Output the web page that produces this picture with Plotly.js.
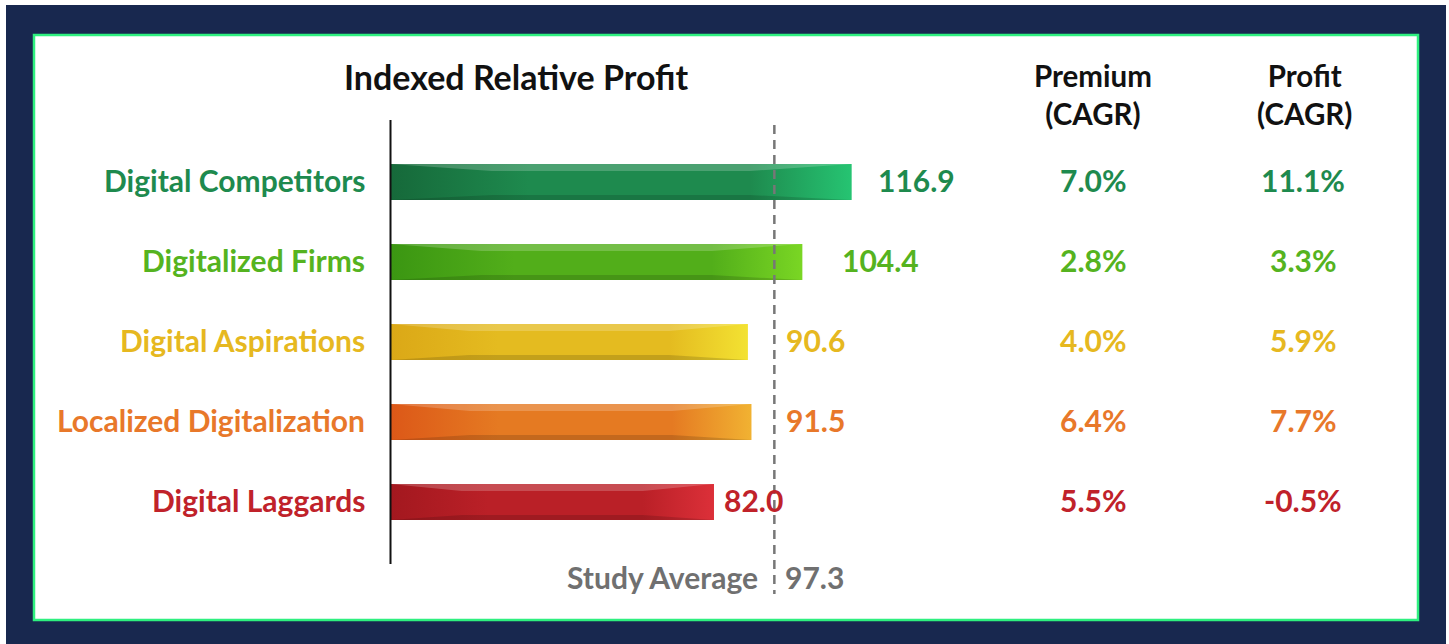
<!DOCTYPE html>
<html>
<head>
<meta charset="utf-8">
<script src="https://cdn.plot.ly/plotly-3.0.1.min.js"></script>
<style>
  html, body { margin: 0; padding: 0; background: #ffffff; }
  #chart { width: 1449px; height: 644px; }
</style>
</head>
<body>
<div id="chart"></div>
<script>
// ---------------- DATA ----------------
const categories = ['Digital Competitors', 'Digitalized Firms', 'Digital Aspirations', 'Localized Digitalization', 'Digital Laggards'];
const profitIndex = [116.9, 104.4, 90.6, 91.5, 82.0];
const premiumCagr = [7.0, 2.8, 4.0, 6.4, 5.5];
const profitCagr = [11.1, 3.3, 5.9, 7.7, -0.5];
const studyAverage = 97.3;
const chartTitle = 'Indexed Relative Profit';
const premiumHeader = 'Premium<br>(CAGR)';
const profitHeader = 'Profit<br>(CAGR)';
const averageLabel = 'Study Average';

// ---------------- STYLE ----------------
const W = 1449, H = 644;
const textColors = ['#1e8a4e', '#55b320', '#e6b820', '#e8782a', '#c0222a'];
const barDark  = ['#16693a', '#3b9612', '#dba817', '#dc5818', '#a3181f'];
const barMain  = ['#1e8a4e', '#52ae1a', '#e4bb20', '#e57a22', '#ba2027'];
const barLight = ['#26c472', '#7ad624', '#f3e232', '#f1b232', '#dc3039'];
const labelShift = [24, 38, 36, 33, 8];
const FONT = 'Lato, "Open Sans", sans-serif';
const px = x => x / W;
const py = y => 1 - y / H;

// axis mapping: value 0 at pixel 390.5, 3.945 px per unit; rows at 182 + 80*i
const X0 = 390.5, XS = 3.945;
const Y0 = 182, YS = 80;
const halfH = 18 / YS;          // bar half height
const topBand = 7 / YS;
const botBand = 5 / YS;

const traces = [];
profitIndex.forEach((v, i) => {
  const top = i - halfH, bot = i + halfH;
  // base bar with horizontal gradient
  traces.push({
    type: 'scatter', mode: 'lines',
    x: [0, v, v, 0, 0], y: [top, top, bot, bot, top],
    fill: 'toself', line: { width: 0, color: barMain[i] },
    fillcolor: barMain[i],
    fillgradient: {
      type: 'horizontal',
      colorscale: [[0, barDark[i]], [0.3, barMain[i]], [0.78, barMain[i]], [1, barLight[i]]]
    },
    hoverinfo: 'skip', showlegend: false
  });
  const t = v * 0.22;
  // top highlight band (trapezoid)
  traces.push({
    type: 'scatter', mode: 'lines',
    x: [0, t, v - t, v, 0], y: [top, top + topBand, top + topBand, top, top],
    fill: 'toself', line: { width: 0, color: 'rgba(0,0,0,0)' },
    fillcolor: 'rgba(255,255,255,0.2)',
    hoverinfo: 'skip', showlegend: false
  });
  // bottom shade band
  traces.push({
    type: 'scatter', mode: 'lines',
    x: [0, t, v - t, v, 0], y: [bot, bot - botBand, bot - botBand, bot, bot],
    fill: 'toself', line: { width: 0, color: 'rgba(0,0,0,0)' },
    fillcolor: 'rgba(0,0,0,0.14)',
    hoverinfo: 'skip', showlegend: false
  });
});

const shapes = [
  // navy frame
  { type: 'rect', xref: 'paper', yref: 'paper', x0: px(6), x1: px(1446), y0: py(5), y1: py(644),
    fillcolor: '#18284f', line: { width: 0 }, layer: 'below' },
  // white panel with green border
  { type: 'rect', xref: 'paper', yref: 'paper', x0: px(34), x1: px(1418), y0: py(35), y1: py(620),
    fillcolor: '#ffffff', line: { width: 2.5, color: '#2ef07f' }, layer: 'below' },
  // vertical axis line at zero
  { type: 'line', xref: 'x', yref: 'paper', x0: 0, x1: 0, y0: py(120), y1: py(564),
    line: { width: 2, color: '#111111' }, layer: 'above' },
  // study average dashed line
  { type: 'line', xref: 'x', yref: 'paper', x0: studyAverage, x1: studyAverage, y0: py(125), y1: py(594),
    line: { width: 2.5, color: '#777777', dash: '9px,6px' }, layer: 'above' }
];

const ann = [];
function addText(o) {
  ann.push(Object.assign({ showarrow: false, xanchor: 'center', yanchor: 'middle' }, o));
}
addText({ text: chartTitle, xref: 'paper', yref: 'paper', x: px(516), y: py(77),
  font: { family: FONT, size: 34, color: '#111111', weight: 700 } });
addText({ text: premiumHeader, xref: 'paper', yref: 'paper', x: px(1093), y: py(94),
  font: { family: FONT, size: 29.5, color: '#111111', weight: 700 } });
addText({ text: profitHeader, xref: 'paper', yref: 'paper', x: px(1304), y: py(94),
  font: { family: FONT, size: 29.5, color: '#111111', weight: 700 } });

categories.forEach((c, i) => {
  const f = { family: FONT, size: 30, color: textColors[i], weight: 700 };
  addText({ text: c, xref: 'x', yref: 'y', x: 0, y: i, xanchor: 'right', xshift: -24, yshift: 2, font: f });
  addText({ text: profitIndex[i].toFixed(1), xref: 'x', yref: 'y', x: profitIndex[i], y: i,
    xanchor: 'left', xshift: labelShift[i], yshift: 2, font: f });
  addText({ text: premiumCagr[i].toFixed(1) + '%', xref: 'paper', yref: 'y', x: px(1093), y: i, yshift: 2, font: f });
  addText({ text: profitCagr[i].toFixed(1) + '%', xref: 'paper', yref: 'y', x: px(1303), y: i, yshift: 2, font: f });
});

const grayFont = { family: FONT, size: 30, color: '#707070', weight: 700 };
addText({ text: averageLabel, xref: 'x', yref: 'paper', x: studyAverage, y: py(577), xanchor: 'right', xshift: -14, font: grayFont });
addText({ text: studyAverage.toFixed(1), xref: 'x', yref: 'paper', x: studyAverage, y: py(577), xanchor: 'left', xshift: 9, font: grayFont });

const layout = {
  width: W, height: H,
  margin: { l: 0, r: 0, t: 0, b: 0, pad: 0 },
  paper_bgcolor: '#ffffff', plot_bgcolor: 'rgba(0,0,0,0)',
  showlegend: false,
  xaxis: { range: [-X0 / XS, (W - X0) / XS], visible: false, fixedrange: true },
  yaxis: { range: [(H - Y0) / YS, -Y0 / YS], visible: false, fixedrange: true },
  shapes: shapes, annotations: ann,
  font: { family: FONT }
};

Plotly.newPlot('chart', traces, layout, { staticPlot: true, displayModeBar: false });
</script>
</body>
</html>
